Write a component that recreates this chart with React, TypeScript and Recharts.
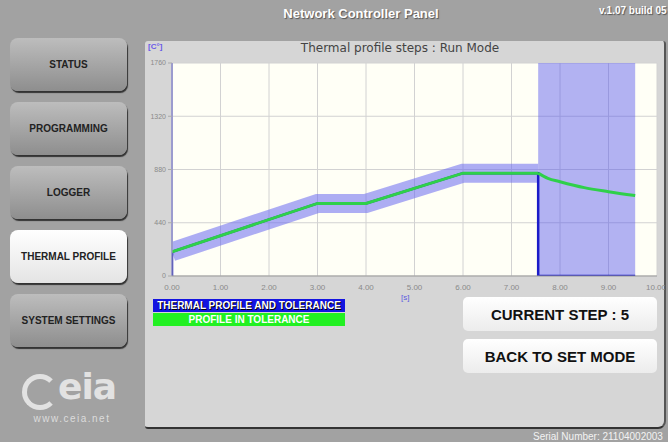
import React from 'react'
import {
  ComposedChart,
  Line,
  XAxis,
  YAxis,
  CartesianGrid,
  ReferenceArea,
  ReferenceLine,
} from 'recharts'

// Axis ticks
const TIME_TICKS = [0, 1, 2, 3, 4, 5, 6, 7, 8, 9, 10]
const TEMP_TICKS = [0, 440, 880, 1320, 1760]

// Programmed thermal profile (time s -> temperature °C)
const profileTime = [0, 3, 4, 6, 7.55]
const profileTemp = [200, 600, 600, 850, 850]

// Dark blue step trace drawn under the profile
const traceTime = [0, 0, 3, 4, 6, 7.55, 7.55, 9.55]
const traceTemp = [0, 200, 600, 600, 850, 850, 0, 0]

// Measured cooling after the last step
const coolTime = [7.55, 7.75, 8, 8.5, 9, 9.55]
const coolTemp = [850, 807, 779, 730, 697, 665]

// Run zone (full-height tolerance window)
const runZone = [7.55, 9.55]

const MENU = ['STATUS', 'PROGRAMMING', 'LOGGER', 'THERMAL PROFILE', 'SYSTEM SETTINGS']
const ACTIVE = 'THERMAL PROFILE'

const zip = (xs: number[], ys: number[]) => xs.map((t, i) => ({ t, v: ys[i] }))

const profileData = zip(profileTime, profileTemp)
const traceData = zip(traceTime, traceTemp)
const coolData = zip(coolTime, coolTemp)

const SANS = '"Liberation Sans", Arial, sans-serif'

function MenuButton({ label }: { label: string }) {
  const active = label === ACTIVE
  return (
    <div
      style={{
        width: 117,
        height: 53,
        marginBottom: 11,
        borderRadius: 8,
        background: active
          ? 'linear-gradient(#ffffff, #e4e4e4)'
          : 'linear-gradient(#bdbdbd, #8e8e8e)',
        boxShadow: '1px 2px 1px #333',
        display: 'flex',
        alignItems: 'center',
        justifyContent: 'center',
        fontFamily: SANS,
        fontWeight: 'bold',
        fontSize: 10,
        color: '#222',
      }}
    >
      {label}
    </div>
  )
}

function BigButton({ label, top }: { label: string; top: number }) {
  return (
    <div
      style={{
        position: 'absolute',
        left: 463,
        top,
        width: 194,
        height: 34,
        borderRadius: 5,
        background: 'linear-gradient(#ffffff, #ececec)',
        display: 'flex',
        alignItems: 'center',
        justifyContent: 'center',
        fontFamily: SANS,
        fontWeight: 'bold',
        fontSize: 15,
        color: '#111',
      }}
    >
      {label}
    </div>
  )
}

const legendBox = {
  position: 'absolute' as const,
  left: 153,
  width: 192,
  height: 13,
  color: '#fff',
  fontWeight: 'bold',
  fontSize: 10,
  lineHeight: '13px',
  textAlign: 'center' as const,
  whiteSpace: 'nowrap' as const,
}

export default function App() {
  return (
    <div
      style={{
        position: 'absolute',
        left: 0,
        top: 0,
        width: 668,
        height: 442,
        background: '#a2a2a2',
        overflow: 'hidden',
        fontFamily: SANS,
      }}
    >
      {/* header */}
      <div
        style={{
          position: 'absolute',
          left: 0,
          width: 668,
          top: 6,
          textAlign: 'center',
          color: '#fff',
          fontWeight: 'bold',
          fontSize: 13,
          textShadow: '1px 1px 1px #555',
          paddingLeft: 54,
          boxSizing: 'border-box',
        }}
      >
        Network Controller Panel
      </div>
      <div
        style={{
          position: 'absolute',
          left: 599,
          top: 5,
          color: '#fff',
          fontWeight: 'bold',
          fontSize: 10,
          whiteSpace: 'nowrap',
          textShadow: '1px 1px 1px #555',
        }}
      >
        v.1.07 build 05
      </div>

      {/* left menu */}
      <div style={{ position: 'absolute', left: 10, top: 38 }}>
        {MENU.map(m => (
          <MenuButton key={m} label={m} />
        ))}
      </div>

      {/* logo */}
      <div style={{ position: 'absolute', left: 22, top: 372, width: 105, height: 36, color: '#e2e2e2' }}>
        <div
          style={{
            position: 'absolute',
            left: 0,
            top: 2,
            width: 26,
            height: 26,
            borderRadius: '50%',
            border: '5px solid #e2e2e2',
            borderRightColor: 'transparent',
          }}
        />
        <div
          style={{
            position: 'absolute',
            left: 36,
            top: -6,
            fontSize: 36,
            fontWeight: 'bold',
            letterSpacing: -1,
            fontFamily: '"DejaVu Sans", sans-serif',
          }}
        >
          eia
        </div>
      </div>
      <div
        style={{
          position: 'absolute',
          left: 22,
          top: 413,
          width: 100,
          textAlign: 'center',
          color: '#dcdcdc',
          fontSize: 10,
          letterSpacing: 1.5,
        }}
      >
        www.ceia.net
      </div>

      {/* main panel */}
      <div
        style={{
          position: 'absolute',
          left: 145,
          top: 41,
          width: 519,
          height: 386,
          background: '#d6d6d6',
          borderRadius: '3px 3px 8px 3px',
          borderBottom: '2px solid #333',
          borderRight: '2px solid #555',
        }}
      />
      <div
        style={{
          position: 'absolute',
          left: 148,
          top: 42,
          fontSize: 8,
          fontWeight: 'bold',
          color: '#6a5ae8',
        }}
      >
        [C°]
      </div>
      <div
        style={{
          position: 'absolute',
          left: 300,
          width: 200,
          top: 41,
          textAlign: 'center',
          fontSize: 12,
          color: '#444',
          fontFamily: '"DejaVu Sans", sans-serif',
          whiteSpace: 'nowrap',
        }}
      >
        Thermal profile steps : Run Mode
      </div>

      <div style={{ position: 'absolute', left: 145, top: 43 }}>
        <ComposedChart width={520} height={270} margin={{ top: 20, right: 8, left: 0, bottom: 0 }}>
          <CartesianGrid stroke="#d2d2d2" fill="#fffff6" strokeWidth={1} />
          <XAxis
            type="number"
            dataKey="t"
            domain={[0, 10]}
            ticks={TIME_TICKS}
            allowDataOverflow
            height={37}
            tick={{ fill: '#8a8a8a', fontSize: 8 }}
            tickLine={false}
            axisLine={{ stroke: '#999' }}
            tickFormatter={(v: number) => v.toFixed(2)}
          />
          <YAxis
            type="number"
            dataKey="v"
            domain={[0, 1760]}
            ticks={TEMP_TICKS}
            allowDataOverflow
            width={27}
            tick={{ fill: '#8a8a8a', fontSize: 7 }}
            tickSize={4}
            tickLine={{ stroke: '#aaa' }}
            axisLine={{ stroke: '#aaa' }}
          />
          <ReferenceArea
            x1={runZone[0]}
            x2={runZone[1]}
            y1={0}
            y2={1760}
            fill="#5555ee"
            fillOpacity={0.45}
            stroke="none"
            ifOverflow="hidden"
          />
          <Line
            data={profileData}
            dataKey="v"
            type="linear"
            stroke="#6a6af0"
            strokeOpacity={0.55}
            strokeWidth={19}
            strokeLinejoin="miter"
            dot={false}
            activeDot={false}
            isAnimationActive={false}
          />
          <ReferenceLine x={0} stroke="#8d8df2" strokeWidth={2} ifOverflow="extendDomain" />
          <Line
            data={traceData}
            dataKey="v"
            type="linear"
            stroke="#1c1cc8"
            strokeWidth={2.5}
            dot={false}
            activeDot={false}
            isAnimationActive={false}
          />
          <Line
            data={profileData}
            dataKey="v"
            type="linear"
            stroke="#2fd04a"
            strokeWidth={3}
            dot={false}
            activeDot={false}
            isAnimationActive={false}
          />
          <Line
            data={coolData}
            dataKey="v"
            type="monotone"
            stroke="#2fd04a"
            strokeWidth={3}
            dot={false}
            activeDot={false}
            isAnimationActive={false}
          />
        </ComposedChart>
      </div>

      <div style={{ position: 'absolute', left: 401, top: 293, fontSize: 8, color: '#5a5ae0' }}>[s]</div>

      {/* legend */}
      <div style={{ ...legendBox, top: 299, background: '#1414e0', textShadow: '1px 1px 0 #000' }}>
        THERMAL PROFILE AND TOLERANCE
      </div>
      <div style={{ ...legendBox, top: 313, background: '#22f022' }}>PROFILE IN TOLERANCE</div>

      <BigButton label="CURRENT STEP : 5" top={297} />
      <BigButton label="BACK TO SET MODE" top={339} />

      <div
        style={{
          position: 'absolute',
          left: 533,
          top: 431,
          color: '#f2f2f2',
          fontSize: 10,
          whiteSpace: 'nowrap',
        }}
      >
        Serial Number: 21104002003
      </div>
    </div>
  )
}
